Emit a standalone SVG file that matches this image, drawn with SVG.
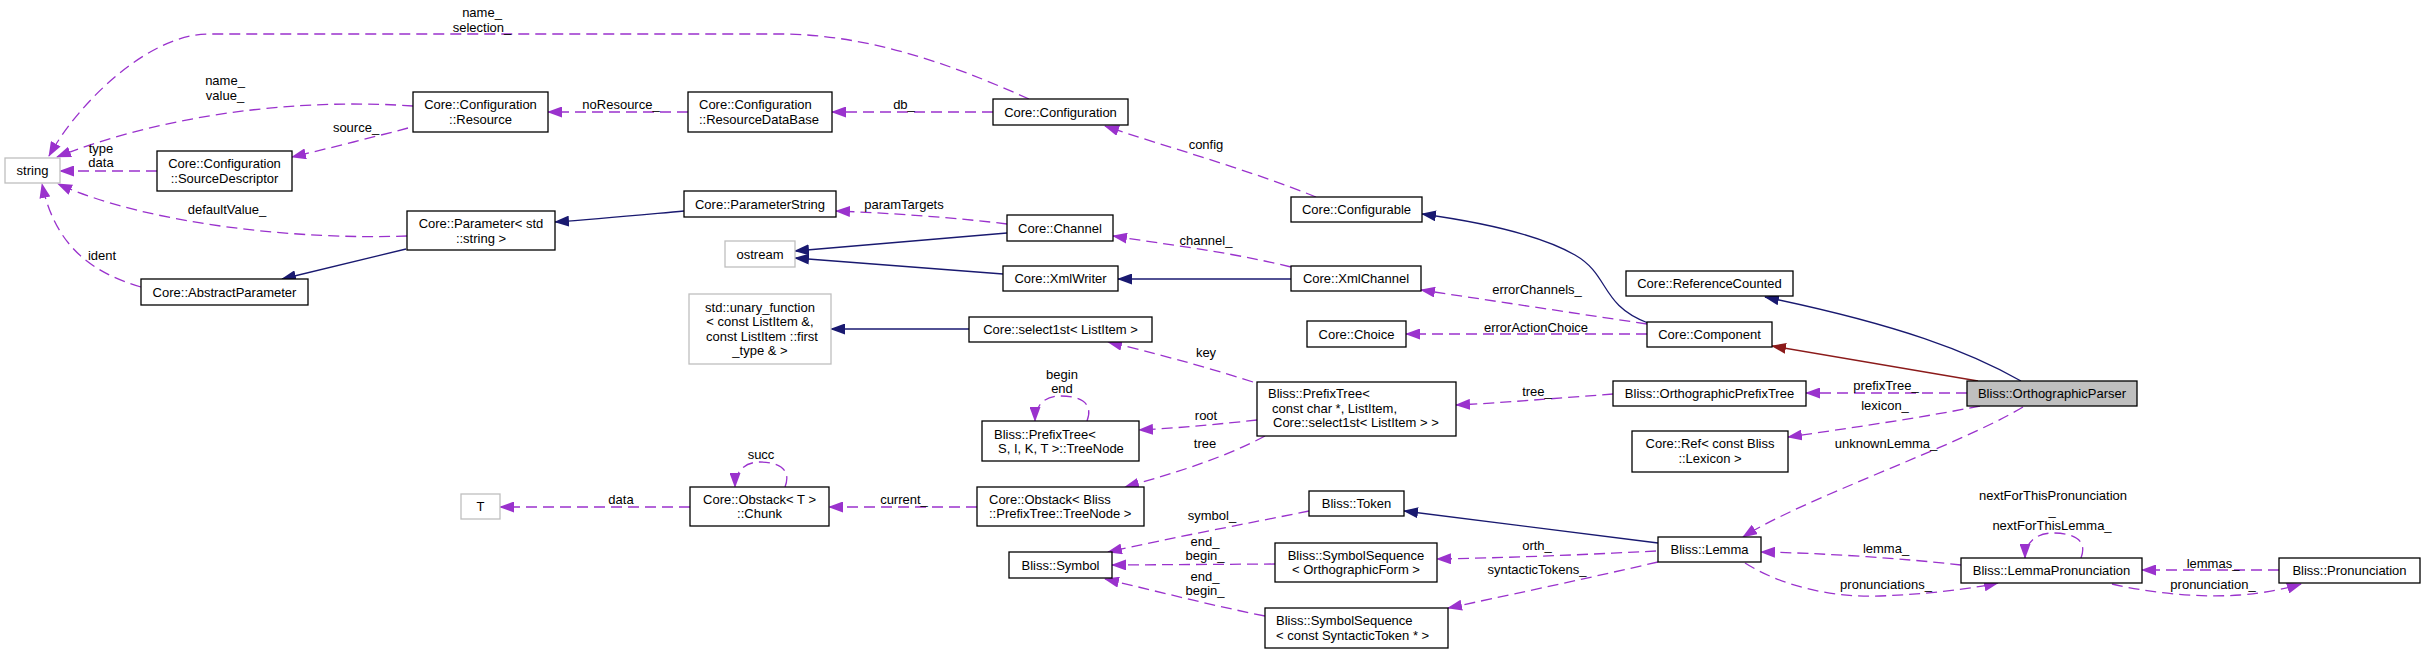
<svg xmlns="http://www.w3.org/2000/svg" width="2424" height="654" viewBox="0 0 2424 654">
<style>
rect{fill:#fff;stroke:#000;stroke-width:1.3}
.g rect{stroke:#bfbfbf}
.h rect{fill:#bfbfbf}
text{font-family:"Liberation Sans",Arial,Helvetica,sans-serif;font-size:13px;fill:#000;text-anchor:middle}
.l{text-anchor:start}
.d{fill:none;stroke:#9a32cd;stroke-width:1.3;stroke-dasharray:11,6;marker-end:url(#ap)}
.i{fill:none;stroke:#191970;stroke-width:1.3;marker-end:url(#an)}
.r{fill:none;stroke:#8b1a1a;stroke-width:1.3;marker-end:url(#ar)}
</style>
<defs>
<marker id="ap" markerWidth="15" markerHeight="11" refX="14" refY="5.5" orient="auto" markerUnits="userSpaceOnUse"><path d="M0,0 L15,5.5 L0,11 z" fill="#9a32cd"/></marker>
<marker id="an" markerWidth="15" markerHeight="11" refX="14" refY="5.5" orient="auto" markerUnits="userSpaceOnUse"><path d="M0,0 L15,5.5 L0,11 z" fill="#191970"/></marker>
<marker id="ar" markerWidth="15" markerHeight="11" refX="14" refY="5.5" orient="auto" markerUnits="userSpaceOnUse"><path d="M0,0 L15,5.5 L0,11 z" fill="#8b1a1a"/></marker>
</defs>
<rect x="0" y="0" width="2424" height="654" style="fill:#fff;stroke:none"/>
<g id="connectors">
<path class="d" d="M1029,99 C975,75 880,34 780,34 L209,34 C150,34 80,100 49,156"/>
<path class="d" d="M413,106 C330,100 190,105 57,157"/>
<path class="d" d="M157,171 L60,171"/>
<path class="d" d="M408,128 C370,138 330,148 292,157"/>
<path class="d" d="M407,236 C300,240 150,225 58,184"/>
<path class="d" d="M141,287 C90,272 55,245 42,184"/>
<path class="d" d="M688,112 L548,112"/>
<path class="d" d="M993,112 L832,112"/>
<path class="d" d="M1316,197 C1250,170 1160,145 1105,126"/>
<path class="i" d="M684,211 C640,215 600,219 555,222"/>
<path class="i" d="M406,249 L282,279"/>
<path class="d" d="M1007,224 C960,218 890,213 836,211"/>
<path class="i" d="M1007,233 L795,251"/>
<path class="i" d="M1003,274 L795,258"/>
<path class="d" d="M1291,267 C1230,252 1170,245 1113,236"/>
<path class="i" d="M1291,279 L1118,279"/>
<path class="i" d="M1648,323 C1600,305 1610,275 1575,255 C1540,235 1480,222 1422,214"/>
<path class="d" d="M1647,324 L1421,290"/>
<path class="d" d="M1647,334 L1406,334"/>
<path class="i" d="M2021,381 C1970,352 1900,325 1765,297"/>
<path class="r" d="M1978,381 L1772,346"/>
<path class="d" d="M1967,393 L1806,393"/>
<path class="d" d="M1980,406 C1920,418 1850,428 1788,437"/>
<path class="d" d="M2023,407 C1960,445 1800,500 1743,537"/>
<path class="d" d="M1613,394 C1560,398 1500,403 1456,405"/>
<path class="d" d="M1253,382 C1200,365 1150,352 1108,342"/>
<path class="i" d="M969,329 L831,329"/>
<path class="d" d="M1257,420 C1220,424 1180,428 1139,430"/>
<path class="d" d="M1087,421 C1095,400 1075,396 1060,396 C1045,396 1035,405 1035,421"/>
<path class="d" d="M1265,436 C1230,455 1180,472 1125,487"/>
<path class="d" d="M977,507 L829,507"/>
<path class="d" d="M785,487 C793,466 773,462 760,462 C745,462 735,471 735,487"/>
<path class="d" d="M690,507 L500,507"/>
<path class="d" d="M1309,511 C1250,523 1170,538 1108,552"/>
<path class="d" d="M1275,564 L1112,565"/>
<path class="d" d="M1265,616 C1210,605 1160,592 1105,579"/>
<path class="i" d="M1658,543 L1404,511"/>
<path class="d" d="M1656,551 C1580,555 1500,558 1437,559"/>
<path class="d" d="M1658,562 C1580,580 1500,597 1448,608"/>
<path class="d" d="M1961,565 C1900,558 1820,553 1761,552"/>
<path class="d" d="M1745,563 C1780,585 1830,598 1880,596 C1930,594 1970,589 1998,583"/>
<path class="d" d="M2081,558 C2089,537 2068,533 2053,533 C2037,533 2025,542 2025,558"/>
<path class="d" d="M2279,570 L2142,570"/>
<path class="d" d="M2112,584 C2150,593 2200,598 2240,595 C2265,593 2285,589 2301,584"/>
<text x="482" y="16.5">name_</text><text x="482" y="31.5">selection_</text>
<text x="225" y="84.5">name_</text><text x="225" y="99.5">value_</text>
<text x="356" y="131.5">source_</text>
<text x="101" y="152.5">type</text><text x="101" y="166.5">data</text>
<text x="227" y="213.5">defaultValue_</text>
<text x="102" y="259.5">ident</text>
<text x="621" y="108.5">noResource_</text>
<text x="904" y="108.5">db_</text>
<text x="904" y="208.5">paramTargets</text>
<text x="1206" y="148.5">config</text>
<text x="1206" y="244.5">channel_</text>
<text x="1537" y="293.5">errorChannels_</text>
<text x="1536" y="331.5">errorActionChoice</text>
<text x="1206" y="356.5">key</text>
<text x="1537" y="395.5">tree_</text>
<text x="1206" y="419.5">root</text>
<text x="1062" y="378.5">begin</text><text x="1062" y="392.5">end</text>
<text x="1886" y="389.5">prefixTree_</text>
<text x="1885" y="409.5">lexicon_</text>
<text x="1886" y="447.5">unknownLemma_</text>
<text x="1205" y="447.5">tree</text>
<text x="761" y="458.5">succ</text>
<text x="621" y="503.5">data</text>
<text x="904" y="503.5">current_</text>
<text x="1212" y="519.5">symbol_</text>
<text x="1205" y="545.5">end_</text><text x="1205" y="559.5">begin_</text>
<text x="1205" y="580.5">end_</text><text x="1205" y="594.5">begin_</text>
<text x="1537" y="549.5">orth_</text>
<text x="1537" y="573.5">syntacticTokens_</text>
<text x="1886" y="552.5">lemma_</text>
<text x="1886" y="588.5">pronunciations_</text>
<text x="2053" y="499.5">nextForThisPronunciation</text>
<text x="2052" y="514.5">_</text>
<text x="2052" y="529.5">nextForThisLemma_</text>
<text x="2213" y="567.5">lemmas_</text>
<text x="2213" y="588.5">pronunciation_</text>
</g>
<g id="n_string" class="g"><rect x="5" y="158" width="55" height="25"/><text x="32.5" y="175">string</text></g>
<g id="n_resource"><rect x="413" y="92" width="135" height="40"/><text x="480.5" y="109">Core::Configuration</text><text x="480.5" y="124">::Resource</text></g>
<g id="n_sourcedesc"><rect x="157" y="151" width="135" height="40"/><text x="224.5" y="168">Core::Configuration</text><text x="224.5" y="183">::SourceDescriptor</text></g>
<g id="n_rdb"><rect x="688" y="92" width="144" height="40"/><text class="l" x="699" y="109">Core::Configuration</text><text class="l" x="699" y="124">::ResourceDataBase</text></g>
<g id="n_configuration"><rect x="993" y="99" width="135" height="26"/><text x="1060.5" y="116.5">Core::Configuration</text></g>
<g id="n_parameter"><rect x="407" y="211" width="148" height="39"/><text x="481" y="227.5">Core::Parameter&lt; std</text><text x="481" y="242.5">::string &gt;</text></g>
<g id="n_abstractparam"><rect x="141" y="279" width="167" height="26"/><text x="224.5" y="296.5">Core::AbstractParameter</text></g>
<g id="n_paramstring"><rect x="684" y="191" width="152" height="26"/><text x="760" y="208.5">Core::ParameterString</text></g>
<g id="n_channel"><rect x="1007" y="215" width="106" height="26"/><text x="1060" y="232.5">Core::Channel</text></g>
<g id="n_ostream" class="g"><rect x="725" y="241" width="70" height="26"/><text x="760" y="258.5">ostream</text></g>
<g id="n_xmlwriter"><rect x="1003" y="266" width="115" height="25"/><text x="1060.5" y="283">Core::XmlWriter</text></g>
<g id="n_unary" class="g"><rect x="689" y="294" width="142" height="70"/><text x="760" y="311.5">std::unary_function</text><text x="760" y="326">&lt; const ListItem &amp;,</text><text x="762" y="340.5">const ListItem ::first</text><text x="760" y="355">_type &amp; &gt;</text></g>
<g id="n_select1st"><rect x="969" y="317" width="183" height="25"/><text x="1060.5" y="334">Core::select1st&lt; ListItem &gt;</text></g>
<g id="n_treenode"><rect x="982" y="421" width="157" height="40"/><text class="l" x="994" y="438.5">Bliss::PrefixTree&lt;</text><text class="l" x="998" y="452.5">S, I, K, T &gt;::TreeNode</text></g>
<g id="n_chunk"><rect x="690" y="487" width="139" height="39"/><text x="759.5" y="503.5">Core::Obstack&lt; T &gt;</text><text x="759.5" y="518">::Chunk</text></g>
<g id="n_obstack"><rect x="977" y="487" width="167" height="39"/><text class="l" x="989" y="503.5">Core::Obstack&lt; Bliss</text><text class="l" x="989" y="518">::PrefixTree::TreeNode &gt;</text></g>
<g id="n_T" class="g"><rect x="461" y="494" width="39" height="25"/><text x="480.5" y="511">T</text></g>
<g id="n_symbol"><rect x="1009" y="552" width="103" height="26"/><text x="1060.5" y="569.5">Bliss::Symbol</text></g>
<g id="n_configurable"><rect x="1291" y="197" width="131" height="25"/><text x="1356.5" y="214">Core::Configurable</text></g>
<g id="n_xmlchannel"><rect x="1291" y="266" width="130" height="25"/><text x="1356" y="283">Core::XmlChannel</text></g>
<g id="n_choice"><rect x="1307" y="321" width="99" height="26"/><text x="1356.5" y="338.5">Core::Choice</text></g>
<g id="n_prefixtree"><rect x="1257" y="382" width="199" height="54"/><text class="l" x="1268" y="397.5">Bliss::PrefixTree&lt;</text><text class="l" x="1272" y="413">const char *, ListItem,</text><text class="l" x="1273" y="427">Core::select1st&lt; ListItem &gt; &gt;</text></g>
<g id="n_token"><rect x="1309" y="491" width="95" height="25"/><text x="1356.5" y="508">Bliss::Token</text></g>
<g id="n_ss1"><rect x="1275" y="543" width="162" height="39"/><text x="1356" y="559.5">Bliss::SymbolSequence</text><text x="1356" y="574">&lt; OrthographicForm &gt;</text></g>
<g id="n_ss2"><rect x="1265" y="608" width="183" height="40"/><text class="l" x="1276" y="624.5">Bliss::SymbolSequence</text><text class="l" x="1276" y="639.5">&lt; const SyntacticToken * &gt;</text></g>
<g id="n_refcounted"><rect x="1626" y="271" width="167" height="25"/><text x="1709.5" y="288">Core::ReferenceCounted</text></g>
<g id="n_component"><rect x="1647" y="322" width="125" height="25"/><text x="1709.5" y="339">Core::Component</text></g>
<g id="n_orthprefixtree"><rect x="1613" y="381" width="193" height="25"/><text x="1709.5" y="398">Bliss::OrthographicPrefixTree</text></g>
<g id="n_ref"><rect x="1632" y="431" width="156" height="41"/><text x="1710" y="447.5">Core::Ref&lt; const Bliss</text><text x="1710" y="463">::Lexicon &gt;</text></g>
<g id="n_lemma"><rect x="1658" y="537" width="103" height="25"/><text x="1709.5" y="554">Bliss::Lemma</text></g>
<g id="n_orthparser" class="h"><rect x="1967" y="381" width="170" height="25"/><text x="2052" y="398">Bliss::OrthographicParser</text></g>
<g id="n_lemmapron"><rect x="1961" y="558" width="181" height="25"/><text x="2051.5" y="575">Bliss::LemmaPronunciation</text></g>
<g id="n_pron"><rect x="2279" y="558" width="141" height="25"/><text x="2349.5" y="575">Bliss::Pronunciation</text></g>
</svg>
